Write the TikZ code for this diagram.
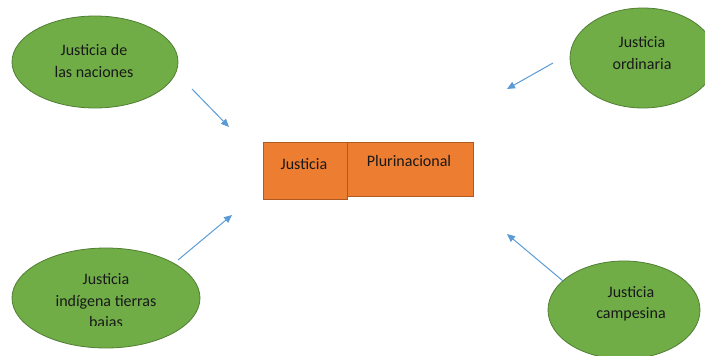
\documentclass[tikz,border=0pt]{standalone}
\usepackage{fontspec}
\setmainfont{Carlito}
\usetikzlibrary{shapes.geometric,arrows.meta}
\definecolor{gfill}{HTML}{70AD47}
\definecolor{gdraw}{HTML}{507E32}
\definecolor{ofill}{HTML}{ED7D31}
\definecolor{odraw}{HTML}{AE5A21}
\definecolor{arr}{HTML}{5B9BD5}
\tikzset{
  x=1pt,y=-1pt,
  gell/.style={ellipse,draw=gdraw,fill=gfill,line width=0.8pt,inner sep=0pt},
  obox/.style={rectangle,draw=odraw,fill=ofill,line width=0.8pt,inner sep=0pt,anchor=north west},
  txt/.style={align=center,font=\fontsize{16}{21.5}\selectfont,text=black!90,inner sep=0pt},
  conn/.style={draw=arr,line width=1pt,-{Triangle[length=8pt,width=7pt]}}
}
\begin{document}
\begin{tikzpicture}
\useasboundingbox (0,0) rectangle (705,356);
\clip (0,0) rectangle (705,356);
% ellipses
\node[gell,minimum width=166pt,minimum height=92pt] (e1) at (95,62) {};
\node[txt] (t1) at (94,61) {Justicia de\\las naciones};
\node[gell,minimum width=146pt,minimum height=100pt] (e2) at (643,58) {};
\node[txt] (t2) at (642,53) {Justicia\\ordinaria};
\node[gell,minimum width=188pt,minimum height=100pt] (e3) at (106,298) {};
\begin{scope}
\clip (0,0) rectangle (705,325);
\node[txt] (t3) at (106,302) {Justicia\\indígena tierras\\bajas};
\end{scope}
\node[gell,minimum width=152pt,minimum height=98pt] (e4) at (624,310) {};
\node[txt] (t4) at (631,304) {Justicia\\campesina};
% boxes
\node[obox,minimum width=84pt,minimum height=57pt] (b1) at (263,142) {};
\node[obox,minimum width=126pt,minimum height=54pt] (b2) at (347,142) {};
\node[txt] (bt1) at (304,164) {Justicia};
\node[txt] (bt2) at (409,161) {Plurinacional};
% arrow ends
\coordinate (s1) at (192,89);  \coordinate (d1) at (229,127);
\coordinate (s2) at (553,63);  \coordinate (d2) at (507,89);
\coordinate (s3) at (178,260); \coordinate (d3) at (232,215);
\coordinate (s4) at (563,281); \coordinate (d4) at (507,234);
\draw[conn] (s1) -- (d1);
\draw[conn] (s2) -- (d2);
\draw[conn] (s3) -- (d3);
\draw[conn] (s4) -- (d4);
\end{tikzpicture}
\end{document}
